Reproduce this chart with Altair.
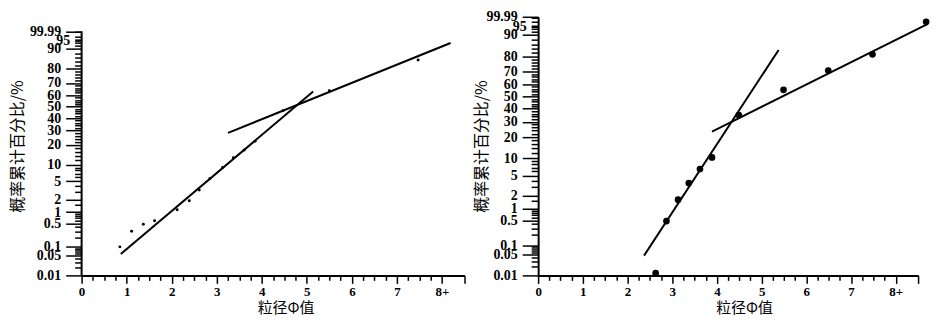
import altair as alt
import pandas as pd
from statistics import NormalDist

_nd = NormalDist()


def z(p):
    """cumulative percent -> probability-paper (normal quantile) coordinate"""
    return _nd.inv_cdf(p / 100.0)


# ---------------- data ----------------
# left panel: sample points
left_x = [0.85, 1.11, 1.37, 1.62, 2.12, 2.39, 2.61, 2.85, 3.13, 3.37, 3.61, 3.85, 4.47, 5.50, 7.47]
left_p = [0.10, 0.30, 0.48, 0.60, 1.16, 1.9, 3.3, 5.7, 9.0, 13.0, 17.0, 22.4, 46.5, 63.7, 84.8]
# left panel: fitted segments (end points)
left_l1_x = [0.87, 5.14]
left_l1_p = [0.058, 63.1]
left_l2_x = [3.25, 8.19]
left_l2_p = [28.2, 92.0]

# right panel: sample points
right_x = [2.63, 2.87, 3.13, 3.37, 3.62, 3.89, 4.49, 5.49, 6.49, 7.48, 8.68]
right_p = [0.012, 0.48, 1.6, 3.6, 6.6, 10.3, 35.0, 55.6, 70.6, 81.0, 94.0]
right_l1_x = [2.37, 5.38]
right_l1_p = [0.047, 83.4]
right_l2_x = [3.89, 8.72]
right_l2_p = [23.3, 93.5]

# y-axis (probability paper, truncated at the top where "99.99" is printed)
y_top_p = 95.15
y_bottom_p = 0.01
y_major_labels = ["99.99", "95", "90", "80", "70", "60", "50", "40", "30", "20",
                  "10", "5", "2", "1", "0.5", "0.1", "0.05", "0.01"]
y_major_pos_p = [95.15, 92.65, 90, 80, 70, 60, 50, 40, 30, 20,
                 10, 5, 2, 1, 0.5, 0.1, 0.05, 0.01]
y_minor_p = [0.02, 0.03, 0.04, 0.06, 0.07, 0.08, 0.09, 0.2, 0.3, 0.4, 0.6, 0.7, 0.8, 0.9,
             1.5, 3, 4, 6, 7, 8, 9, 12, 14, 16, 18, 22, 24, 26, 28, 32, 34, 36, 38,
             42, 44, 46, 48, 52, 54, 56, 58, 62, 64, 66, 68, 72, 74, 76, 78,
             82, 84, 86, 88, 91, 92, 93, 94, 95]

# x-axis ticks
x_tick_vals = [i * 0.25 for i in range(33)] + [8.5]

FONT_NUM = "Liberation Serif"
FONT_CJK = "Noto Sans CJK SC"

PLOT_H = 260
ZMIN = z(y_bottom_p)
ZMAX = z(y_top_p)
LEFT_PX_PER_Z = 45.6
ZMAX_LEFT_SCALE = ZMIN + PLOT_H / LEFT_PX_PER_Z   # left axis line stops lower

y_major_z = [z(p) for p in y_major_pos_p]
y_vals = y_major_z + [z(p) for p in y_minor_p]


def label_expr(labels, zs):
    s = "''"
    for lab, zv in reversed(list(zip(labels, zs))):
        s = f"abs(datum.value - ({zv!r})) < 1e-6 ? '{lab}' : ({s})"
    return s


y_lab_expr = label_expr(y_major_labels, y_major_z)
y_long_test = " || ".join(
    f"abs(datum.value - ({zv!r})) < 1e-6"
    for lab, zv in zip(y_major_labels, y_major_z) if lab != "95"
)

x_lab_expr = ("datum.value == 8 ? '8+' : "
              "(datum.value % 1 == 0 && datum.value < 8 ? format(datum.value, 'd') : '')")


def panel(xs, ps, segs, width, zmax_scale, pt_size, y_title_x, x_title_x, draw_domain_rule):
    pts = pd.DataFrame({"x": xs, "z": [z(p) for p in ps]})
    rows = []
    for k, (sx, sp) in enumerate(segs):
        for a, b in zip(sx, sp):
            rows.append({"x": a, "z": z(b), "seg": k})
    lines = pd.DataFrame(rows)

    y_axis = alt.Axis(
        title="概率累计百分比/%",
        values=y_vals,
        labelExpr=y_lab_expr,
        labelOverlap=False,
        labelFont=FONT_NUM,
        labelFontWeight="bold",
        labelFontSize=14,
        labelColor="black",
        labelPadding=5,
        tickSize={"condition": {"test": y_long_test, "value": 16}, "value": 7},
        tickColor="black",
        tickWidth=1.5,
        domain=not draw_domain_rule,
        domainColor="black",
        domainWidth=2,
        grid=False,
        titleFont=FONT_CJK,
        titleFontSize=16,
        titleFontWeight="normal",
        titleColor="black",
        titleBaseline="middle",
        titleX=y_title_x,
    )
    x_axis = alt.Axis(
        title="粒径Φ值",
        values=x_tick_vals,
        labelExpr=x_lab_expr,
        labelOverlap=False,
        labelFlush=False,
        labelFont=FONT_NUM,
        labelFontWeight="bold",
        labelFontSize=13,
        labelColor="black",
        labelPadding=2,
        tickSize={"condition": {"test": "datum.value % 1 == 0 || datum.value == 8.5", "value": 8},
                  "value": 5},
        tickColor="black",
        tickWidth=1.5,
        domainColor="black",
        domainWidth=2,
        grid=False,
        titleFont=FONT_CJK,
        titleFontSize=15,
        titleFontWeight="normal",
        titleColor="black",
        titlePadding=2,
        titleX=x_title_x,
    )
    xs_ = alt.Scale(domain=[0, 8.5], nice=False, zero=False)
    ys_ = alt.Scale(domain=[ZMIN, zmax_scale], nice=False, zero=False)

    layers = []
    layers.append(alt.Chart(lines).mark_line(color="black", strokeWidth=2).encode(
        x=alt.X("x:Q", scale=xs_, axis=x_axis),
        y=alt.Y("z:Q", scale=ys_, axis=y_axis),
        detail="seg:N",
    ))
    layers.append(alt.Chart(pts).mark_circle(color="black", size=pt_size, opacity=1).encode(
        x=alt.X("x:Q", scale=xs_, axis=x_axis),
        y=alt.Y("z:Q", scale=ys_, axis=y_axis),
    ))
    if draw_domain_rule:
        dom = pd.DataFrame({"x": [0.0], "z": [ZMIN], "z2": [ZMAX]})
        layers.append(alt.Chart(dom).mark_rule(color="black", strokeWidth=2).encode(
            x=alt.X("x:Q", scale=xs_, axis=x_axis),
            y=alt.Y("z:Q", scale=ys_, axis=y_axis),
            y2="z2:Q",
        ))
    return alt.layer(*layers).properties(width=width, height=PLOT_H)


left = panel(left_x, left_p, [(left_l1_x, left_l1_p), (left_l2_x, left_l2_p)],
             385, ZMAX_LEFT_SCALE, 9, -64.7, 205, True)
right = panel(right_x, right_p, [(right_l1_x, right_l1_p), (right_l2_x, right_l2_p)],
              382, ZMAX, 45, -57, 207, False)

chart = alt.hconcat(left, right, spacing=6).properties(padding=0).configure_view(
    stroke="transparent"
)

chart.save("out.html", embed_options={"renderer": "svg", "actions": False})
